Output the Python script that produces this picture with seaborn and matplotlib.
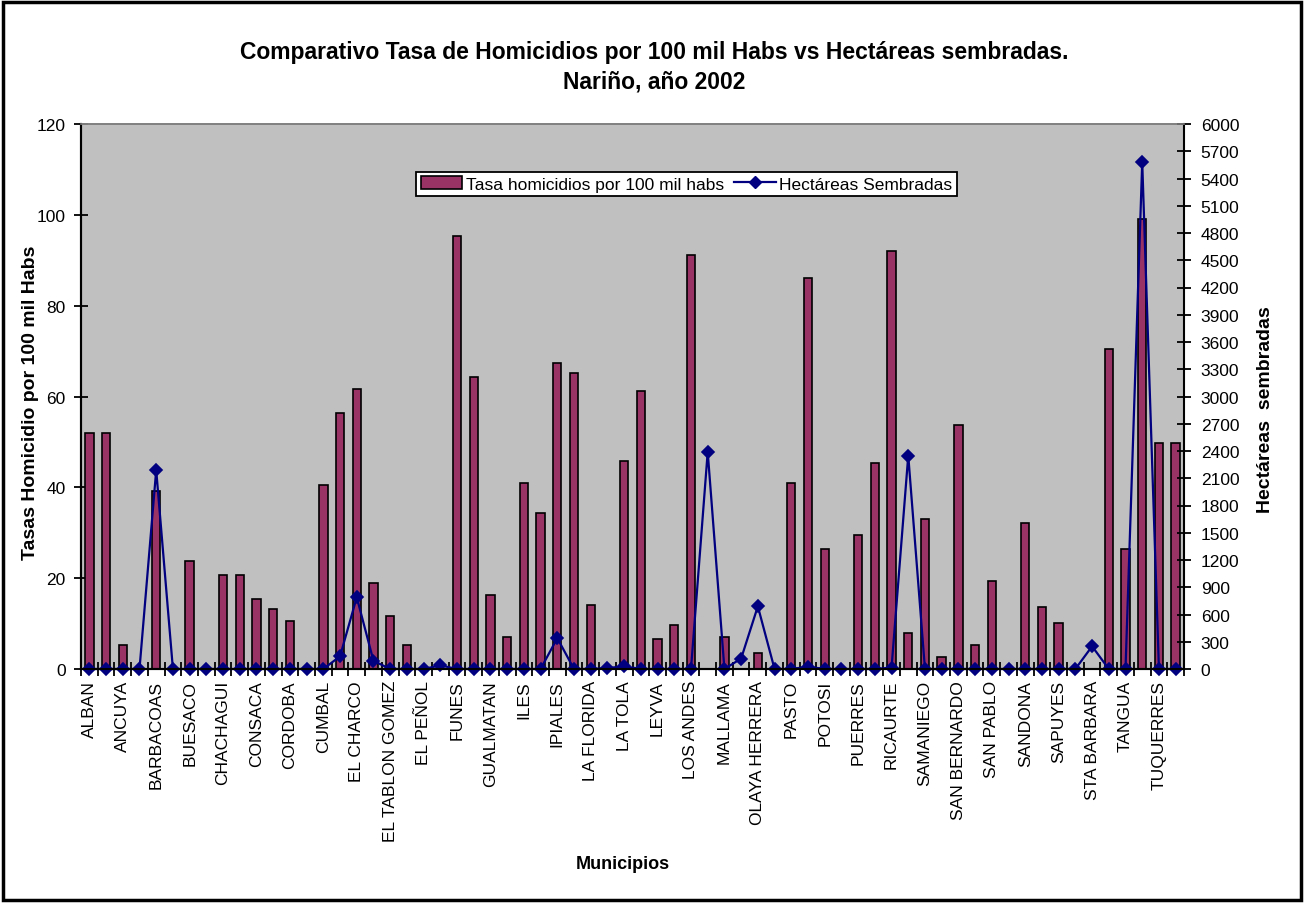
import numpy as np
import pandas as pd
import matplotlib
matplotlib.use("Agg")
import matplotlib.pyplot as plt
from matplotlib.patches import Rectangle, Patch
from matplotlib.lines import Line2D
import seaborn as sns

# ---------------- data ----------------
municipios = [
    "ALBAN", "ALDANA", "ANCUYA", "ARBOLEDA", "BARBACOAS", "BELEN", "BUESACO", "CARTAGO",
    "CHACHAGUI", "COLON", "CONSACA", "CONTADERO", "CORDOBA", "CUASPUD", "CUMBAL", "CUMBITARA",
    "EL CHARCO", "EL ROSARIO", "EL TABLON GOMEZ", "EL TAMBO", "EL PEÑOL", "FRANCISCO PIZARRO",
    "FUNES", "GUACHUCAL", "GUALMATAN", "GUAYTARILLA", "ILES", "IMUES", "IPIALES", "LA CRUZ",
    "LA FLORIDA", "LA LLANADA", "LA TOLA", "LA UNION", "LEYVA", "LINARES", "LOS ANDES", "MAGUI",
    "MALLAMA", "MOSQUERA", "OLAYA HERRERA", "OSPINA", "PASTO", "POLICARPA", "POTOSI", "PROVIDENCIA",
    "PUERRES", "PUPIALES", "RICAURTE", "ROBERTO PAYAN", "SAMANIEGO", "NARIÑO", "SAN BERNARDO",
    "SAN LORENZO", "SAN PABLO", "SAN PEDRO", "SANDONA", "SANTACRUZ", "SAPUYES", "SOTOMAYOR",
    "STA BARBARA", "TAMINANGO", "TANGUA", "TUMACO", "TUQUERRES", "YACUANQUER",
]

tasa_homicidios = [
    52.0, 52.0, 5.3, 0, 39.2, 0, 23.8, 0, 20.8, 20.8,
    15.5, 13.3, 10.6, 0, 40.5, 56.4, 61.6, 19.0, 11.6, 5.3,
    0, 0, 95.4, 64.3, 16.3, 7.1, 40.9, 34.3, 67.3, 65.1,
    14.1, 0, 45.7, 61.3, 6.7, 9.7, 91.2, 0, 7.1, 0,
    3.5, 0, 40.9, 86.2, 26.4, 0, 29.5, 45.4, 92.0, 8.0,
    33.1, 2.7, 53.7, 5.3, 19.4, 0, 32.2, 13.6, 10.1, 0,
    0, 70.5, 26.5, 99.0, 49.7, 49.8,
]

hectareas = [
    0, 0, 0, 0, 2190, 0, 0, 0, 0, 0,
    0, 0, 0, 0, 0, 140, 790, 90, 0, 0,
    0, 40, 0, 0, 0, 0, 0, 0, 340, 0,
    0, 10, 30, 0, 0, 0, 0, 2390, 0, 115,
    690, 0, 0, 25, 0, 0, 0, 0, 15, 2350,
    0, 0, 0, 0, 0, 0, 0, 0, 0, 0,
    250, 0, 0, 5580, 0, 0,
]

titulo = "Comparativo Tasa de Homicidios por 100 mil Habs vs Hectáreas sembradas.\nNariño, año 2002"
etiqueta_barras = "Tasa homicidios por 100 mil habs"
etiqueta_linea = "Hectáreas Sembradas"

# ---------------- style ----------------
plt.rcParams["font.family"] = ["Liberation Sans", "DejaVu Sans"]
BAR_COLOR = "#993366"
LINE_COLOR = "#000080"
BG = "#C0C0C0"
FS = 12.5

df = pd.DataFrame({"mun": municipios, "tasa": tasa_homicidios, "ha": hectareas})
n = len(municipios)

fig = plt.figure(figsize=(13.05, 9.04), dpi=100)
ax1 = fig.add_axes([81 / 1305, 1 - 670 / 904, 1103 / 1305, 545 / 904])
ax1.set_facecolor(BG)

sns.barplot(data=df, x="mun", y="tasa", order=municipios, color=BAR_COLOR, saturation=1,
            edgecolor="black", linewidth=1.2, width=0.5, errorbar=None, ax=ax1, zorder=2)

ax2 = ax1.twinx()
sns.pointplot(data=df, x="mun", y="ha", order=municipios, color=LINE_COLOR, markers="D",
              linestyles="-", markersize=6.5, linewidth=1.6, errorbar=None, ax=ax2)
for ln in ax2.lines:
    ln.set_clip_on(False)
    ln.set_markeredgecolor(LINE_COLOR)

ax1.set_xlim(-0.5, n - 0.5)
ax1.set_ylim(0, 120)
ax2.set_ylim(0, 6000)
ax1.set_yticks(np.arange(0, 121, 20))
ax2.set_yticks(np.arange(0, 6001, 300))

# x ticks: labels on every other category, tick marks at category boundaries
ax1.set_xticks(np.arange(0, n, 2))
ax1.set_xticklabels(municipios[::2], rotation=90, fontsize=FS)
ax1.set_xticks(np.arange(-0.5, n, 1), minor=True)
ax1.tick_params(axis="x", which="major", length=0, pad=8)
ax1.tick_params(axis="x", which="minor", length=10, width=1.3, direction="inout")
ax1.tick_params(axis="y", length=10, width=1.3, direction="inout", labelsize=FS, pad=6)
ax2.tick_params(axis="y", length=10, width=1.3, direction="inout", labelsize=FS, pad=7)

for ax in (ax1, ax2):
    ax.set_xlabel("")
    ax.set_ylabel("")
    ax.spines["top"].set_color("#808080")
    ax.spines["top"].set_linewidth(1.2)
    for s in ("left", "right", "bottom"):
        ax.spines[s].set_linewidth(1.5)
        ax.spines[s].set_color("black")
ax1.spines["right"].set_visible(False)

fig.text(31 / 1305, 1 - 403 / 904, "Tasas Homicidio por 100 mil Habs", rotation=90,
         ha="center", va="center", fontsize=14, fontweight="bold")
fig.text(1265 / 1305, 1 - 410 / 904, "Hectáreas  sembradas", rotation=90,
         ha="center", va="center", fontsize=14, fontweight="bold")
fig.text(623 / 1305, 1 - 865 / 904, "Municipios", ha="center", va="center",
         fontsize=13, fontweight="bold")
fig.text(654 / 1305, 1 - 67.5 / 904, titulo, ha="center", va="center", fontsize=16.5,
         fontweight="bold", linespacing=1.35)

handles = [Patch(facecolor=BAR_COLOR, edgecolor="black", linewidth=1.2),
           Line2D([], [], color=LINE_COLOR, marker="D", markersize=6.5, linewidth=1.6)]
leg = ax2.legend(handles, [etiqueta_barras, etiqueta_linea], ncol=2, loc="center",
                 bbox_to_anchor=(0.549, 0.89), fontsize=FS, frameon=True, fancybox=False,
                 framealpha=1, edgecolor="black", borderpad=0.25, handlelength=2.4,
                 handletextpad=0.2, columnspacing=0.6)
leg.get_frame().set_linewidth(1.3)

fig.patches.append(Rectangle((0.002, 0.003), 0.995, 0.994, transform=fig.transFigure,
                             fill=False, edgecolor="black", linewidth=2.5))

fig.savefig("out.png", dpi=100, facecolor="white")
